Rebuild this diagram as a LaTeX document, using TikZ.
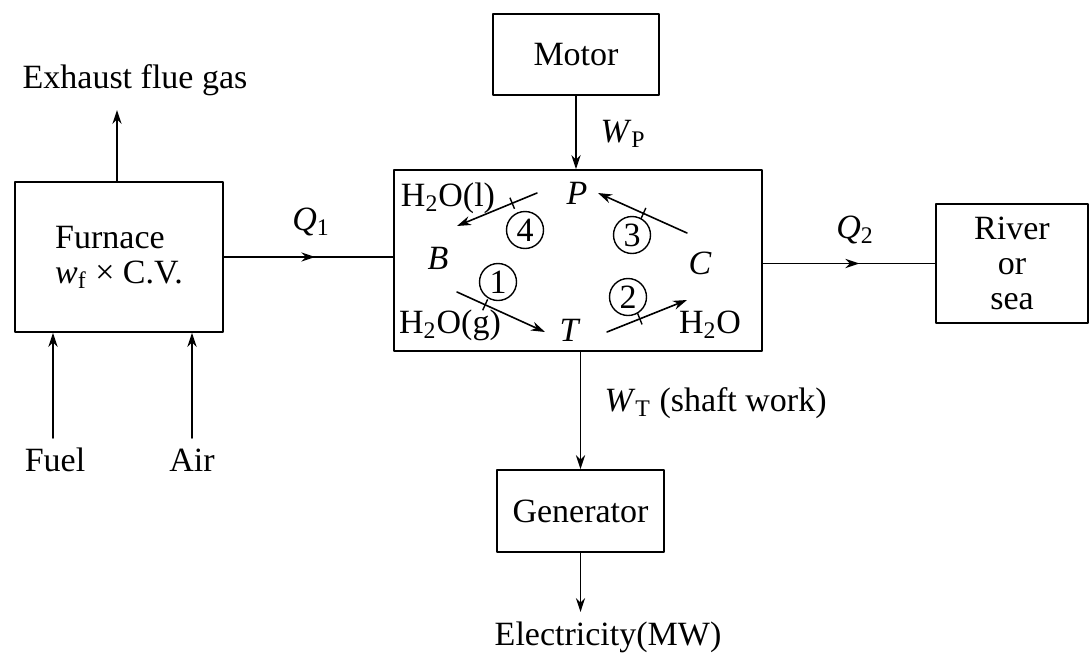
\documentclass[tikz,border=0pt]{standalone}
\usepackage{fontspec}
\setmainfont{Liberation Serif}
\usetikzlibrary{arrows.meta,decorations.markings}
\begin{document}
\begin{tikzpicture}[x=0.5pt, y=-0.5pt, line cap=round, line join=round, >={Stealth[length=7pt,width=4.6pt]}, font=\fontsize{17}{17.5}\selectfont, line width=0.9pt,
	box/.style={draw, rectangle, inner sep=0pt, align=center},
	num/.style={draw, circle, inner sep=0pt, minimum size=18.5pt, line width=0.7pt},
	midarrow/.style={decoration={markings, mark=at position #1 with {\arrow{>}}}, postaction={decorate}}]
	\useasboundingbox (0,0) rectangle (1091,653);
	% boxes
	\node[box, align=left, minimum width=104pt, minimum height=75pt] (Furnace) at (119,257) {Furnace\\\textit{w}\textsubscript{f} × C.V.};
	\node[box, minimum width=184pt, minimum height=90.5pt] (Plant) at (578,260.5) {};
	\node[box, minimum width=83pt, minimum height=40.5pt] (Motor) at (576,54.5) {Motor};
	\node[box, minimum width=83.5pt, minimum height=41pt] (Gen) at (580.5,511) {Generator};
	\node[box, minimum width=76pt, minimum height=59.5pt] (River) at (1012,263.5) {River\\or\\sea};
	% outside labels
	\node (Exhaust) at (135,80) {Exhaust flue gas};
	\node (Fuel) at (55,460) {Fuel};
	\node (Air) at (192,460) {Air};
	\node (Q1) at (311,222) {\textit{Q}\textsubscript{1}};
	\node (Q2) at (855,230) {\textit{Q}\textsubscript{2}};
	\node[anchor=west] (WP) at (593,134) {\textit{W}\textsubscript{P}};
	\node[anchor=west] (WT) at (597,403) {\textit{W}\textsubscript{T} (shaft work)};
	\node (Elec) at (608,637) {Electricity(MW)};
	\coordinate (ExhaustTip) at (117,110);
	\coordinate (FuelTail) at (53,438);
	\coordinate (AirTail) at (192,438);
	\coordinate (ElecTip) at (580.5,612);
	% flows
	\draw[->] (Furnace.north -| ExhaustTip) -- (ExhaustTip);
	\draw[->] (FuelTail) -- (FuelTail |- Furnace.south);
	\draw[->] (AirTail) -- (AirTail |- Furnace.south);
	\draw[->] (Motor.south) -- (Motor.south |- Plant.north);
	\draw[->] (Gen.north |- Plant.south) -- (Gen.north);
	\draw[->] (Gen.south) -- (ElecTip);
	\draw[midarrow=0.54] (Furnace.east) -- (Furnace.east -| Plant.west);
	\draw[midarrow=0.56] (River.west -| Plant.east) -- (River.west);
	% cycle inside the plant
	\node (P) at (577,193) {\textit{P}};
	\node (B) at (438,258) {\textit{B}};
	\node (C) at (700,263) {\textit{C}};
	\node (T) at (570,330) {\textit{T}};
	\node (Hl) at (448,198) {H\textsubscript{2}O(l)};
	\node (Hg) at (450,325) {H\textsubscript{2}O(g)};
	\node (Hw) at (710,325) {H\textsubscript{2}O};
	\node[num] (N1) at (498,282) {1};
	\node[num] (N2) at (628,297) {2};
	\node[num] (N3) at (632,235) {3};
	\node[num] (N4) at (525,230) {4};
	\coordinate (S1) at (457,292); \coordinate (E1) at (545,332);
	\coordinate (S2) at (607,332); \coordinate (E2) at (687,300);
	\coordinate (S3) at (687,233); \coordinate (E3) at (598,193);
	\coordinate (S4) at (537,193); \coordinate (E4) at (457,226);
	\foreach \i/\p in {1/0.32,2/0.41,3/0.49,4/0.31} {
		\draw[->, line width=0.8pt] (S\i) -- node[pos=\p, sloped, inner sep=0pt] {\rule{0.7pt}{6pt}} (E\i);
	}
\end{tikzpicture}
\end{document}
